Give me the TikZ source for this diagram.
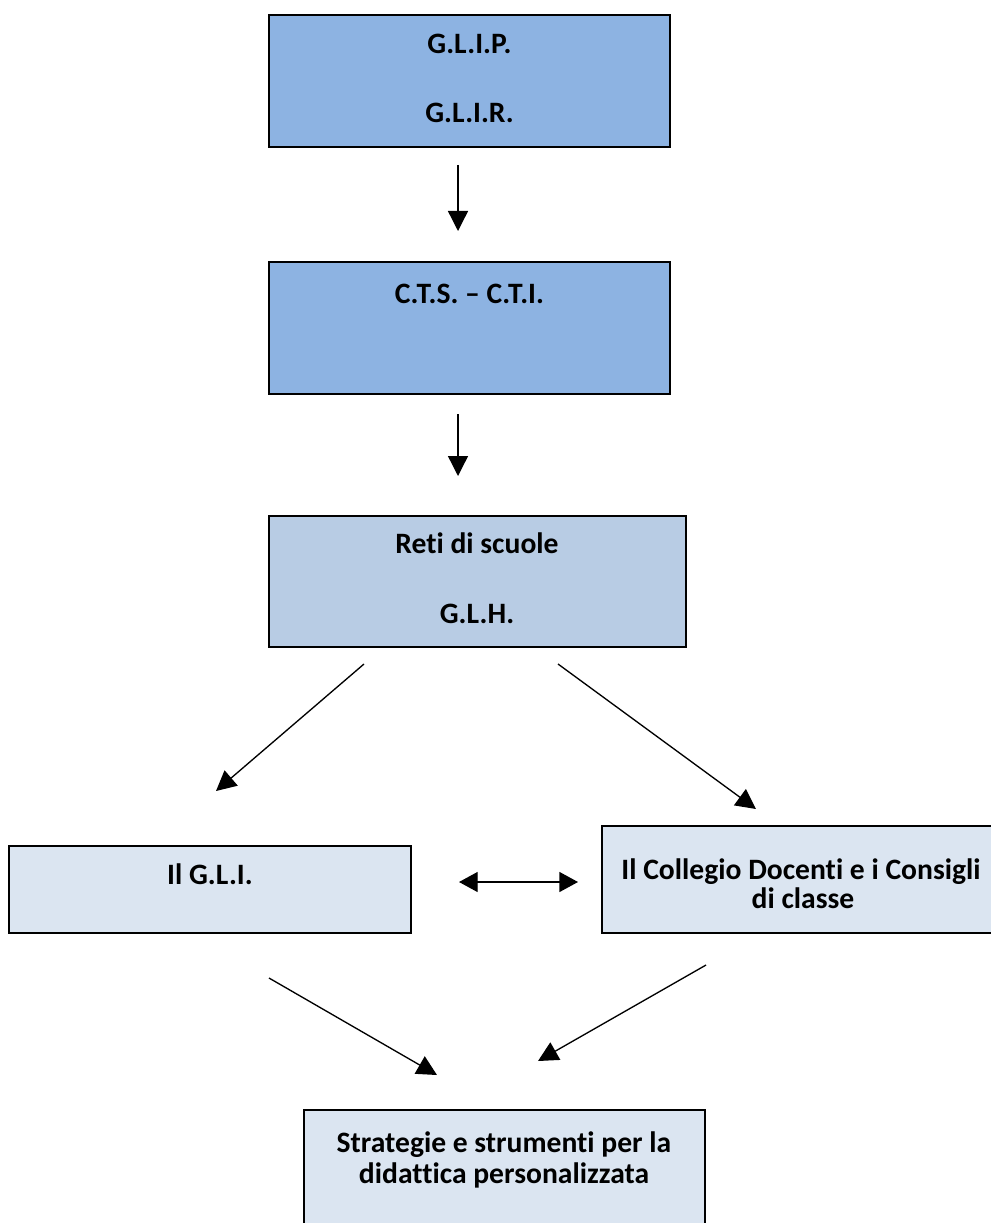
\documentclass[tikz,border=0pt]{standalone}
\usepackage{fontspec}
\setmainfont{Carlito}[Ligatures=NoCommon]
\usetikzlibrary{fit,arrows.meta}
\definecolor{darkblue}{HTML}{8DB3E2}
\definecolor{midblue}{HTML}{B8CCE4}
\definecolor{paleblue}{HTML}{DBE5F1}
\tikzset{
  box/.style={draw=black, line width=1.6pt, inner sep=0pt, outer sep=0pt, rectangle},
  lbl/.style={anchor=base, inner sep=0pt, font=\fontsize{22.2}{24}\selectfont\bfseries},
  arr/.style={line width=1pt, -{Triangle[length=15pt,width=15pt]}},
  darr/.style={line width=1pt, {Triangle[length=14pt,width=15pt]}-{Triangle[length=14pt,width=15pt]}}
}
\begin{document}
\begin{tikzpicture}[x=0.75pt,y=-0.75pt]
\useasboundingbox (0,0) rectangle (990,1223);
% boxes
\node[box, fill=darkblue, fit={(269,15) (670,147)}] (b1) {};
\node[box, fill=darkblue, fit={(269,262) (670,394)}] (b2) {};
\node[box, fill=midblue, fit={(269,516) (686,647)}] (b3) {};
\node[box, fill=paleblue, fit={(9,846) (411,933)}] (b4) {};
\node[box, fill=paleblue, fit={(602,826) (1000,933)}] (b5) {};
\node[box, fill=paleblue, fit={(304,1110) (705,1260)}] (b6) {};
% labels
\node[lbl] (t1a) at (469.5,54) {G.L.I.P.};
\node[lbl] (t1b) at (469.5,123) {G.L.I.R.};
\node[lbl] (t2) at (469.5,303) {C.T.S. – C.T.I.};
\node[lbl] (t3a) at (477,553) {Reti di scuole};
\node[lbl] (t3b) at (477,623) {G.L.H.};
\node[lbl] (t4) at (210,884) {Il G.L.I.};
\node[lbl] (t5a) at (801,879) {Il Collegio Docenti e i Consigli};
\node[lbl] (t5b) at (803,908) {di classe};
\node[lbl] (t6a) at (504,1152) {Strategie e strumenti per la};
\node[lbl] (t6b) at (504,1183) {didattica personalizzata};
% arrow ends
\coordinate (a1s) at (458,165); \coordinate (a1e) at (458,231);
\coordinate (a2s) at (458,414); \coordinate (a2e) at (458,476);
\coordinate (a3s) at (364,664); \coordinate (a3e) at (216,791);
\coordinate (a4s) at (558,664); \coordinate (a4e) at (756,809);
\coordinate (a5s) at (459,882); \coordinate (a5e) at (578,882);
\coordinate (a6s) at (269,978); \coordinate (a6e) at (437,1075);
\coordinate (a7s) at (706,965); \coordinate (a7e) at (538,1061);
\draw[arr] (a1s) -- (a1e);
\draw[arr] (a2s) -- (a2e);
\draw[arr] (a3s) -- (a3e);
\draw[arr] (a4s) -- (a4e);
\draw[darr] (a5s) -- (a5e);
\draw[arr] (a6s) -- (a6e);
\draw[arr] (a7s) -- (a7e);
\end{tikzpicture}
\end{document}
